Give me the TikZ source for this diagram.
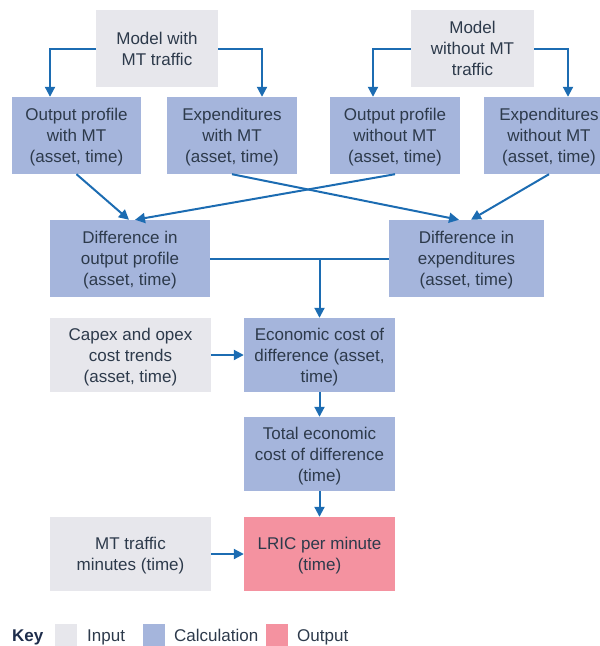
\documentclass[tikz,border=0pt]{standalone}
\usepackage{fontspec}
\setmainfont{Liberation Sans}
\usetikzlibrary{arrows.meta}

\definecolor{inputgray}{RGB}{231,231,236}
\definecolor{calcblue}{RGB}{165,181,220}
\definecolor{outpink}{RGB}{244,146,160}
\definecolor{flowblue}{RGB}{28,108,178}
\definecolor{txt}{RGB}{45,58,75}
\definecolor{keytxt}{RGB}{30,45,75}

\begin{document}
\begin{tikzpicture}[x=1pt,y=-1pt,
  box/.style={rectangle, inner sep=0pt, align=center, text=txt, text depth=0pt,
    font=\fontsize{17}{21}\selectfont, minimum height=77pt},
  inbox/.style={box, fill=inputgray},
  calcbox/.style={box, fill=calcblue},
  outbox/.style={box, fill=outpink},
  flow/.style={draw=flowblue, line width=2pt},
  arr/.style={flow, -{Triangle[length=10pt,width=10pt]}},
  swatch/.style={rectangle, inner sep=0pt, minimum width=22pt, minimum height=22pt},
  keylabel/.style={anchor=base west, inner sep=0pt, text=txt, font=\fontsize{17}{21}\selectfont}
]
\clip (0,0) rectangle (600,646);

% top-level models
\node[inbox, minimum width=122pt] (mwith) at (157,48.5) {Model with\\MT traffic};
\node[inbox, minimum width=123pt] (mwo) at (472.5,48.5) {Model\\without MT\\traffic};

% profiles and expenditures
\node[calcbox, minimum width=129pt] (opw) at (76.5,135.5) {Output profile\\with MT\\(asset, time)};
\node[calcbox, minimum width=130pt] (exw) at (232,135.5) {Expenditures\\with MT\\(asset, time)};
\node[calcbox, minimum width=130pt] (opwo) at (395,135.5) {Output profile\\without MT\\(asset, time)};
\node[calcbox, minimum width=130pt] (exwo) at (549,135.5) {Expenditures\\without MT\\(asset, time)};

% differences
\node[calcbox, minimum width=160pt] (dop) at (130,258.5) {Difference in\\output profile\\(asset, time)};
\node[calcbox, minimum width=155pt] (dex) at (466.5,258.5) {Difference in\\expenditures\\(asset, time)};

% cost chain
\node[inbox, minimum width=161pt, minimum height=74pt] (capex) at (130.5,355) {Capex and opex\\cost trends\\(asset, time)};
\node[calcbox, minimum width=151pt, minimum height=74pt] (econ) at (319.5,355) {Economic cost of\\difference (asset,\\time)};
\node[calcbox, minimum width=151pt, minimum height=74pt] (tot) at (319.5,454) {Total economic\\cost of difference\\(time)};
\node[inbox, minimum width=161pt, minimum height=74pt] (mtm) at (130.5,554) {MT traffic\\minutes (time)};
\node[outbox, minimum width=151pt, minimum height=74pt] (lric) at (319.5,554) {LRIC per minute\\(time)};

% model splits
\draw[arr] (mwith.west) -| ([xshift=-26.5pt]opw.north);
\draw[arr] (mwith.east) -| ([xshift=30pt]exw.north);
\draw[arr] (mwo.west) -| ([xshift=-22pt]opwo.north);
\draw[arr] (mwo.east) -| ([xshift=19pt]exwo.north);

% crossing links into the differences
\draw[arr] (opw.south) -- ([xshift=-1pt]dop.north);
\draw[arr] (opwo.south) -- ([xshift=5pt]dop.north);
\draw[arr] (exw.south) -- ([xshift=-7.5pt]dex.north);
\draw[arr] (exwo.south) -- ([xshift=4.5pt]dex.north);

% merge into economic cost
\draw[flow] (dop.east) -- (dex.west);
\coordinate (join) at (econ.north |- dop.east);
\draw[arr] (join) -- (econ.north);
\draw[arr] (capex.east) -- (econ.west);
\draw[arr] (econ.south) -- (tot.north);
\draw[arr] (tot.south) -- (lric.north);
\draw[arr] (mtm.east) -- (lric.west);

% key
\node[anchor=base west, inner sep=0pt, text=keytxt, font=\fontsize{17}{21}\selectfont\bfseries] (key) at (12,641) {Key};
\node[swatch, fill=inputgray] (swin) at (66,635) {};
\node[keylabel] (lin) at (87,641) {Input};
\node[swatch, fill=calcblue] (swcalc) at (153.5,635) {};
\node[keylabel] (lcalc) at (174,641) {Calculation};
\node[swatch, fill=outpink] (swout) at (277,635) {};
\node[keylabel] (lout) at (297,641) {Output};
\end{tikzpicture}
\end{document}
